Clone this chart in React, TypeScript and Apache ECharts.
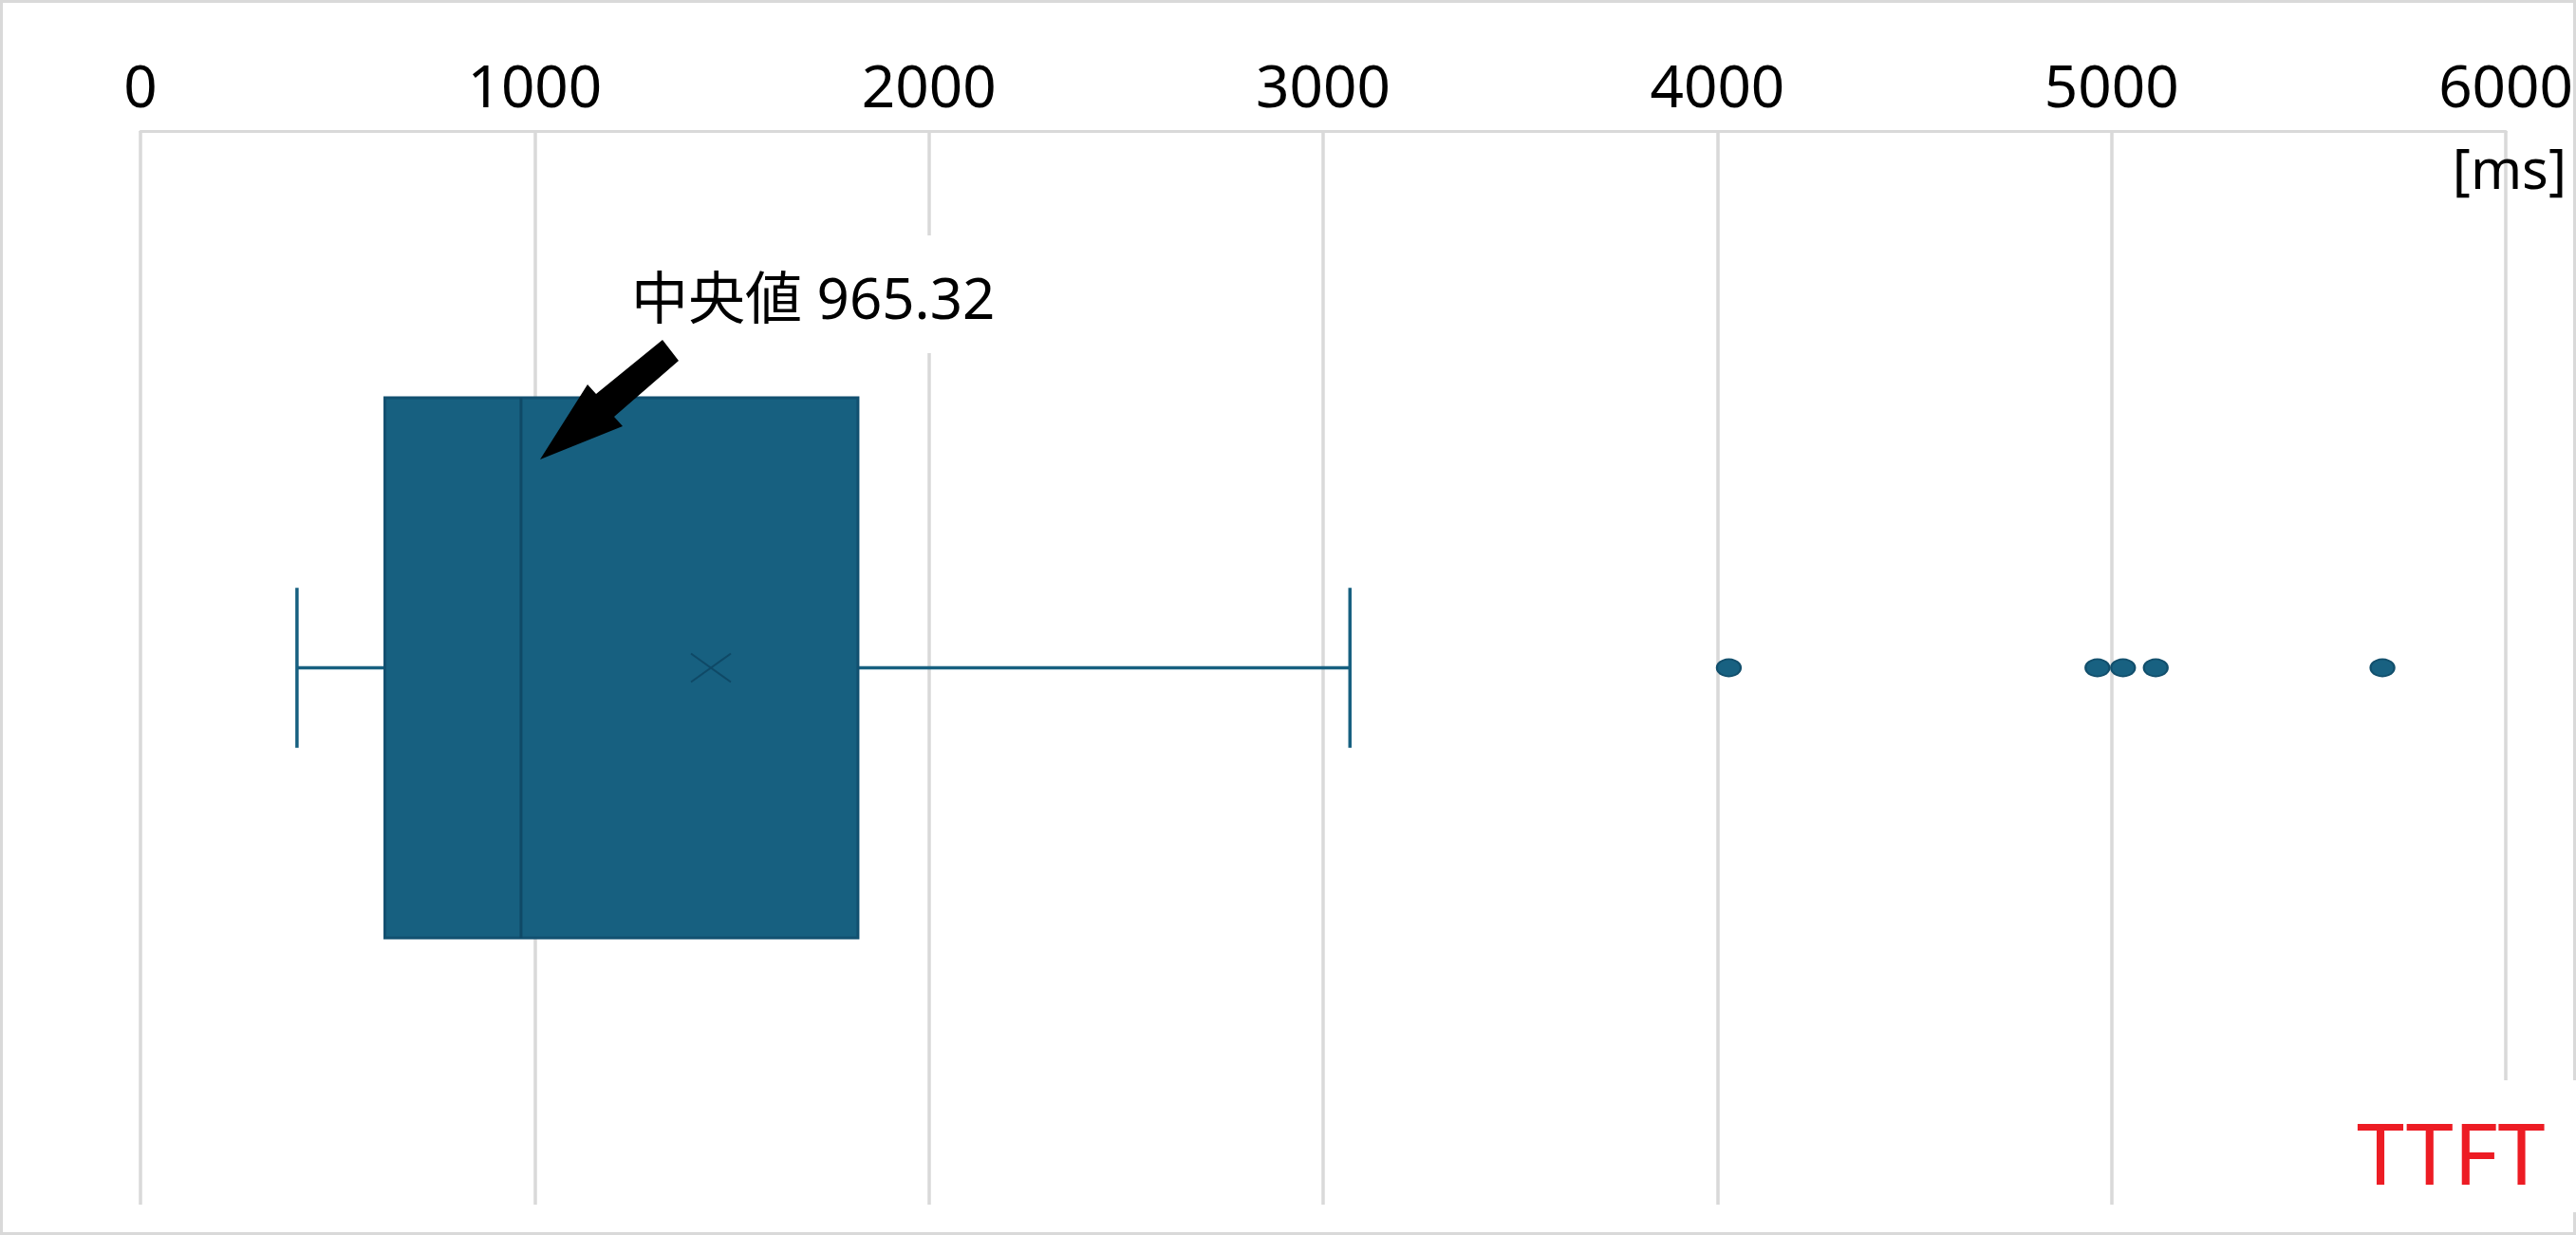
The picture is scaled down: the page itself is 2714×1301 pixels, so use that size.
import React, { useEffect, useRef } from 'react'
import * as echarts from 'echarts'

// 箱ひげ図の値 (ms)
const categories = ['TTFT']
const whiskerLow = [397]
const quartile1 = [620]
const medians = [965.32]
const quartile3 = [1820]
const whiskerHigh = [3068]
const means = [1447]
const outliers = [4029, 4964, 5029, 5112, 5687]

const xMin = 0
const xMax = 6000
const xInterval = 1000

const FONT = "'Noto Sans', 'Noto Sans CJK JP', sans-serif"
const BOX_COLOR = '#176080'
const BOX_BORDER = '#125070'
const DARK = '#0f4966'

const App: React.FC = () => {
  const chartRef = useRef<HTMLDivElement>(null)

  useEffect(() => {
    document.body.style.margin = '0'
    document.body.style.overflow = 'hidden'
    if (!chartRef.current) return

    const chart = echarts.init(chartRef.current, undefined, { renderer: 'svg' })

    const boxData = categories.map((_, i) => [
      i,
      whiskerLow[i],
      quartile1[i],
      medians[i],
      quartile3[i],
      whiskerHigh[i],
      means[i]
    ])

    const option = {
      animation: false,
      backgroundColor: '#ffffff',
      textStyle: { fontFamily: FONT },
      grid: { left: 148, right: 57, top: 138, bottom: 32 },
      xAxis: {
        type: 'value',
        position: 'top',
        min: xMin,
        max: xMax,
        interval: xInterval,
        axisLine: { show: true, lineStyle: { color: '#d9d9d9', width: 3 } },
        axisTick: { show: false },
        axisLabel: {
          color: '#000',
          fontSize: 62,
          fontFamily: FONT,
          margin: 18,
          formatter: (v: number) => String(v)
        },
        splitLine: { show: true, lineStyle: { color: '#d9d9d9', width: 3.5 } }
      },
      yAxis: {
        type: 'category',
        data: categories,
        axisLine: { show: false },
        axisTick: { show: false },
        axisLabel: { show: false },
        splitLine: { show: false }
      },
      series: [
        {
          type: 'custom',
          data: boxData,
          encode: { x: [1, 2, 3, 4, 5, 6], y: 0 },
          renderItem: (_params: any, api: any) => {
            const yi = api.value(0)
            const low = api.coord([api.value(1), yi])
            const q1 = api.coord([api.value(2), yi])
            const med = api.coord([api.value(3), yi])
            const q3 = api.coord([api.value(4), yi])
            const high = api.coord([api.value(5), yi])
            const mean = api.coord([api.value(6), yi])
            const band = api.size([0, 1])[1]
            const bh = band * 0.503
            const ch = band * 0.149
            const cy = low[1]
            const lineStyle = { stroke: BOX_COLOR, lineWidth: 3.5 }
            return {
              type: 'group',
              children: [
                { type: 'line', shape: { x1: low[0], y1: cy, x2: q1[0], y2: cy }, style: lineStyle },
                { type: 'line', shape: { x1: q3[0], y1: cy, x2: high[0], y2: cy }, style: lineStyle },
                { type: 'line', shape: { x1: low[0], y1: cy - ch / 2, x2: low[0], y2: cy + ch / 2 }, style: lineStyle },
                { type: 'line', shape: { x1: high[0], y1: cy - ch / 2, x2: high[0], y2: cy + ch / 2 }, style: lineStyle },
                {
                  type: 'rect',
                  shape: { x: q1[0], y: cy - bh / 2, width: q3[0] - q1[0], height: bh },
                  style: { fill: BOX_COLOR, stroke: BOX_BORDER, lineWidth: 3 }
                },
                { type: 'line', shape: { x1: med[0], y1: cy - bh / 2, x2: med[0], y2: cy + bh / 2 }, style: { stroke: DARK, lineWidth: 3 } },
                { type: 'line', shape: { x1: mean[0] - 21, y1: cy - 15, x2: mean[0] + 21, y2: cy + 15 }, style: { stroke: DARK, lineWidth: 2 } },
                { type: 'line', shape: { x1: mean[0] - 21, y1: cy + 15, x2: mean[0] + 21, y2: cy - 15 }, style: { stroke: DARK, lineWidth: 2 } }
              ]
            }
          }
        },
        {
          type: 'scatter',
          data: outliers.map(v => [v, 0]),
          symbol: 'circle',
          symbolSize: [25, 18],
          itemStyle: { color: '#186181', borderColor: '#124f6c', borderWidth: 2, opacity: 1 }
        }
      ],
      graphic: [
        {
          type: 'rect',
          z: 100,
          shape: { x: 1.5, y: 1.5, width: 2711, height: 1298 },
          style: { fill: 'none', stroke: '#d9d9d9', lineWidth: 3 }
        },
        {
          type: 'rect',
          z: 101,
          shape: { x: 640, y: 248, width: 430, height: 124 },
          style: { fill: '#ffffff' }
        },
        {
          type: 'text',
          z: 102,
          x: 665,
          y: 313,
          style: {
            text: '中央値 965.32',
            fill: '#000',
            fontSize: 60,
            fontFamily: FONT,
            textAlign: 'left',
            textVerticalAlign: 'middle'
          }
        },
        {
          type: 'polygon',
          z: 102,
          shape: {
            points: [
              [698, 358],
              [715, 380],
              [647, 439],
              [656, 449],
              [569, 484],
              [619, 405],
              [628, 415]
            ]
          },
          style: { fill: '#000' }
        },
        {
          type: 'text',
          z: 102,
          x: 2704,
          y: 176,
          style: {
            text: '[ms]',
            fill: '#000',
            fontSize: 58,
            fontFamily: FONT,
            textAlign: 'right',
            textVerticalAlign: 'middle'
          }
        },
        {
          type: 'rect',
          z: 101,
          shape: { x: 2440, y: 1138, width: 274, height: 139 },
          style: { fill: '#ffffff' }
        },
        {
          type: 'text',
          z: 102,
          x: 2483,
          y: 1213,
          style: {
            text: 'TTFT',
            fill: '#ed1c24',
            fontSize: 90,
            fontFamily: FONT,
            textAlign: 'left',
            textVerticalAlign: 'middle'
          }
        }
      ]
    }

    chart.setOption(option)

    const handleResize = () => chart.resize()
    window.addEventListener('resize', handleResize)

    return () => {
      window.removeEventListener('resize', handleResize)
      chart.dispose()
    }
  }, [])

  return <div ref={chartRef} style={{ width: '2714px', height: '1301px' }} />
}

export default App
